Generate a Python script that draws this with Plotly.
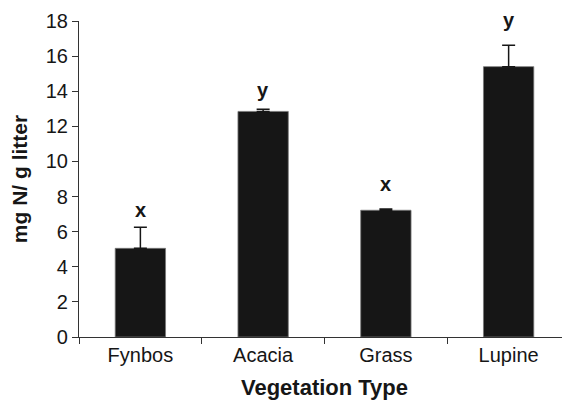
import plotly.graph_objects as go

categories = ["Fynbos", "Acacia", "Grass", "Lupine"]
means = [5.05, 12.85, 7.22, 15.4]
errors = [1.2, 0.12, 0.07, 1.22]
letters = ["x", "y", "x", "y"]
letter_y = [7.23, 14.07, 8.7, 18.05]
y_ticks = [0, 2, 4, 6, 8, 10, 12, 14, 16, 18]
Y_MAX = 18

FONT = "Liberation Sans, Arial, Helvetica, sans-serif"

fig = go.Figure()
fig.add_trace(go.Bar(
    x=categories, y=means,
    width=0.41,
    marker=dict(color="#161616", line=dict(color="#777777", width=0.8)),
    error_y=dict(type="data", symmetric=False, array=errors,
                 arrayminus=[0] * len(errors),
                 color="#161616", thickness=1.5, width=6.5),
    cliponaxis=False,
    showlegend=False,
))

# letters placed in paper units (value / axis max) so the top one is not hidden
for c, l, ly in zip(categories, letters, letter_y):
    fig.add_annotation(x=c, y=ly / Y_MAX, yref="paper", text="<b>%s</b>" % l,
                       showarrow=False,
                       font=dict(family=FONT, size=20, color="#161616"),
                       yanchor="middle")

# page body has an 8px margin; compensate so the plot lands where the reference has it
fig.update_layout(
    width=562, height=392,
    margin=dict(l=71, r=0, t=13, b=63),
    plot_bgcolor="white", paper_bgcolor="white",
    font=dict(family=FONT, size=20, color="#161616"),
)
fig.update_xaxes(
    range=[-0.5, 3.5],
    showline=True, linecolor="#333333", linewidth=1.2,
    ticks="outside", tickson="boundaries", ticklen=6, tickcolor="#333333",
    showgrid=False, zeroline=False,
    title=dict(text="<b>Vegetation Type</b>", font=dict(size=22), standoff=14),
    tickfont=dict(size=20),
)
fig.update_yaxes(
    range=[0, Y_MAX], tickvals=y_ticks,
    showline=True, linecolor="#333333", linewidth=1.2,
    ticks="outside", ticklen=6, tickcolor="#333333",
    showgrid=False, zeroline=False,
    title=dict(text="<b>mg N/ g litter</b>", font=dict(size=21), standoff=16),
    tickfont=dict(size=20),
)

fig.write_html("out.html")
